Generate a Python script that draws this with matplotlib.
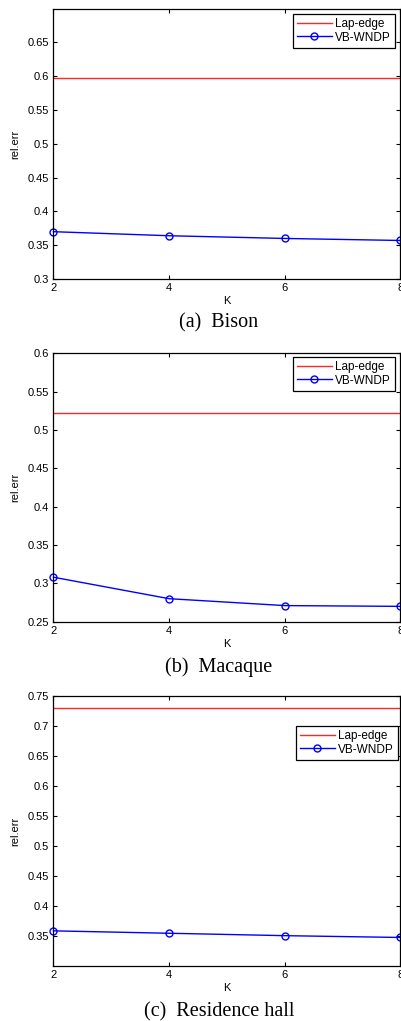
import matplotlib
matplotlib.use("Agg")
import matplotlib.pyplot as plt
import numpy as np

K = [2, 4, 6, 8]

lap_bison = 0.597
vb_bison = [0.370, 0.364, 0.360, 0.357]
lap_macaque = 0.522
vb_macaque = [0.308, 0.280, 0.271, 0.270]
lap_res = 0.730
vb_res = [0.359, 0.355, 0.351, 0.348]

captions = ["(a)  Bison", "(b)  Macaque", "(c)  Residence hall"]
ylims = [(0.3, 0.6995), (0.25, 0.6), (0.3005, 0.75)]
yticks = [np.arange(0.30, 0.651, 0.05), np.arange(0.25, 0.601, 0.05), np.arange(0.35, 0.751, 0.05)]
ytick_labels = [["0.3", "0.35", "0.4", "0.45", "0.5", "0.55", "0.6", "0.65"],
                ["0.25", "0.3", "0.35", "0.4", "0.45", "0.5", "0.55", "0.6"],
                ["0.35", "0.4", "0.45", "0.5", "0.55", "0.6", "0.65", "0.7", "0.75"]]
laps = [lap_bison, lap_macaque, lap_res]
vbs = [vb_bison, vb_macaque, vb_res]

W, H = 402, 1021
fig = plt.figure(figsize=(W / 100, H / 100), dpi=100)
plt.rcParams['font.family'] = ['Liberation Sans', 'DejaVu Sans']

# pixel boxes: (left, top, right, bottom)
boxes = [(53.5, 9, 400.5, 279), (53.5, 353.3, 400.5, 621.7), (53.5, 696, 400.5, 966)]
legend_ur = [(395, 14), (395, 357), (398, 726)]
klabel_y = [301, 644, 988]
caption_y = [323, 667, 1012]

for i in range(3):
    l, t, r, b = boxes[i]
    ax = fig.add_axes([l / W, 1 - b / H, (r - l) / W, (b - t) / H])
    ax.plot([K[0], K[-1]], [laps[i], laps[i]], color=(1, 0.15, 0.15), lw=1.0, label="Lap-edge")
    ax.plot(K, vbs[i], color=(0, 0, 1), lw=1.0, marker='o', markersize=5,
            markerfacecolor='none', markeredgecolor=(0, 0, 1), markeredgewidth=1.0,
            label="VB-WNDP", clip_on=False)
    ax.set_xlim(2, 8)
    ax.set_ylim(*ylims[i])
    ax.set_xticks(K)
    ax.set_xticklabels([str(k) for k in K])
    ax.set_yticks(yticks[i])
    ax.set_yticklabels(ytick_labels[i])
    ax.tick_params(direction='in', top=True, right=True, length=3, width=0.8,
                   labelsize=8, pad=3)
    for s in ax.spines.values():
        s.set_linewidth(0.9)
    ax.set_ylabel("rel.err", fontsize=8, labelpad=4)
    ax.yaxis.set_label_coords((20 - l) / (r - l), 0.5)
    fig.text(227 / W, 1 - klabel_y[i] / H, "K", fontsize=8, ha='center', va='center')
    fig.text(219 / W, 1 - caption_y[i] / H, captions[i], fontsize=14.5,
             family=['Liberation Serif', 'DejaVu Serif'], ha='center', va='center')
    ux, uy = legend_ur[i]
    leg = ax.legend(loc='upper right', bbox_to_anchor=(ux / W, 1 - uy / H),
                    bbox_transform=fig.transFigure, borderaxespad=0, fontsize=8.5,
                    fancybox=False, framealpha=1, edgecolor='black',
                    handlelength=2.9, handletextpad=0.3, borderpad=0.35,
                    labelspacing=0.12)
    leg.get_frame().set_linewidth(0.9)

fig.savefig("out.png", dpi=100)
